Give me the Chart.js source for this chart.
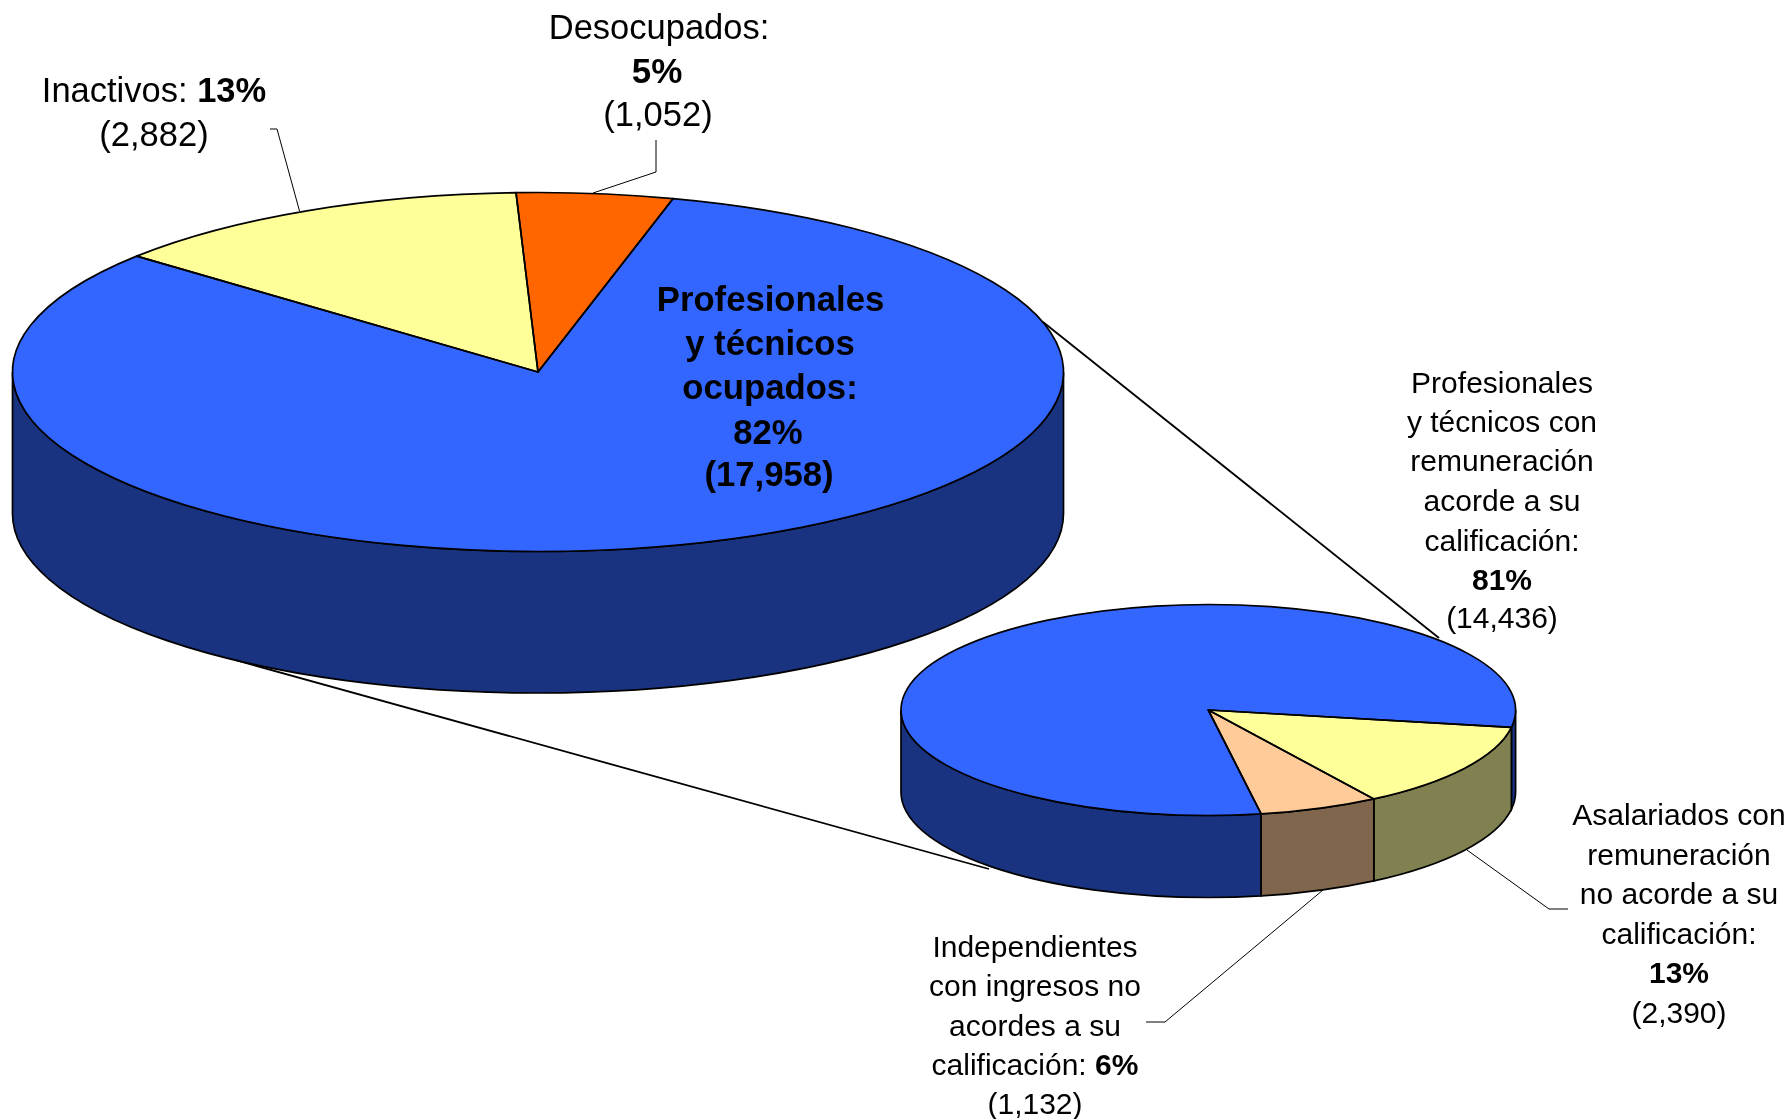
<!DOCTYPE html>
<html lang="es">
<head>
<meta charset="utf-8">
<title>Profesionales y técnicos</title>
<script src="https://cdn.jsdelivr.net/npm/chart.js@4"></script>
<style>
html,body{margin:0;padding:0;background:#fff;width:1792px;height:1119px;overflow:hidden}
#stage{position:relative;width:1792px;height:1119px;font-family:"Liberation Sans",Arial,sans-serif;color:#000}
canvas{position:absolute;left:0;top:0}
svg{position:absolute;left:0;top:0}
.t{position:absolute;width:800px;margin-left:-400px;text-align:center;white-space:pre;line-height:40px;height:40px}
</style>
</head>
<body>
<div id="stage">
<canvas id="mainPie" width="1792" height="1119"></canvas>
<svg id="leaders" width="1792" height="1119"></svg>
<canvas id="subPie" width="1792" height="1119"></canvas>
</div>
<script>
// Data
const mainCategories = ["Profesionales y técnicos ocupados", "Inactivos", "Desocupados"];
const mainValues = [17958, 2882, 1052];
const mainFaceColors = ["#3366FF", "#FFFF99", "#FF6600"];
const mainSideColors = ["#1A3380", "#808050", "#803300"];

const subCategories = ["Profesionales y técnicos con remuneración acorde a su calificación", "Asalariados con remuneración no acorde a su calificación", "Independientes con ingresos no acordes a su calificación"];
const subValues = [14436, 2390, 1132];
const subFaceColors = ["#3366FF", "#FFFF99", "#FFCC99"];
const subSideColors = ["#1A3380", "#808050", "#80664D"];

// Geometry of the tilted pies (position only)
const mainGeo = {cx: 538, cy: 372, rx: 525.5, ry: 179.5, depth: 141.5, rotation: 14.9};
const subGeo  = {cx: 1208.3, cy: 710, rx: 307.3, ry: 105.5, depth: 82, rotation: 170.1};

// Labels: [centre x, centre y, font size, text]; a "*" prefix on a run means bold
const labelLines = [
  [659, 27, 34.5, "Desocupados:"],
  [657, 70.5, 35, "*5%"],
  [658, 114, 34.5, "(1,052)"],
  [154, 90, 34.5, "Inactivos: |*13%"],
  [154, 134, 34.5, "(2,882)"],
  [770.5, 299, 34.7, "*Profesionales"],
  [770, 343, 34.7, "*y técnicos"],
  [770, 387, 34.7, "*ocupados:"],
  [768, 432, 34.7, "*82%"],
  [769, 474, 34.7, "*(17,958)"],
  [1502, 383, 30, "Profesionales"],
  [1502, 422, 30, "y técnicos con"],
  [1502, 461, 30, "remuneración"],
  [1502, 501, 30, "acorde a su"],
  [1502, 541, 30, "calificación:"],
  [1502, 580, 30, "*81%"],
  [1502, 618, 30, "(14,436)"],
  [1679, 815, 30, "Asalariados con"],
  [1679, 855, 30, "remuneración"],
  [1679, 894, 30, "no acorde a su"],
  [1679, 934, 30, "calificación:"],
  [1679, 973, 30, "*13%"],
  [1679, 1013, 30, "(2,390)"],
  [1035, 947, 30, "Independientes"],
  [1035, 986, 30, "con ingresos no"],
  [1035, 1026, 30, "acordes a su"],
  [1035, 1065, 30, "calificación: |*6%"],
  [1035, 1104, 30, "(1,132)"]
];

// Leader and series lines
const leaderLines = [
  {w: 1, pts: "270,129 277,129 299.5,211"},
  {w: 1, pts: "656,140 656,172 593,193"},
  {w: 1, pts: "1467,850 1549,909 1568,909"},
  {w: 1, pts: "1323,890 1165,1022 1146,1022"},
  {w: 1.8, pts: "1043,322 1439,638"},
  {w: 1.8, pts: "235,660 989,869"}
];

const stage = document.getElementById("stage");
labelLines.forEach(([x, y, size, text]) => {
  const d = document.createElement("div");
  d.className = "t";
  d.style.left = x + "px";
  d.style.top = (y - 20) + "px";
  d.style.fontSize = size + "px";
  text.split("|").forEach(run => {
    const s = document.createElement("span");
    if (run[0] === "*") { s.style.fontWeight = "bold"; s.textContent = run.slice(1); }
    else s.textContent = run;
    d.appendChild(s);
  });
  stage.appendChild(d);
});

const svg = document.getElementById("leaders");
leaderLines.forEach(l => {
  const p = document.createElementNS("http://www.w3.org/2000/svg", "polyline");
  p.setAttribute("points", l.pts);
  p.setAttribute("fill", "none");
  p.setAttribute("stroke", "#000");
  p.setAttribute("stroke-width", l.w);
  svg.appendChild(p);
});

// Plugin: squash the library's circular arcs into an ellipse and extrude the front wall
const tiltPlugin = {
  id: "tilt",
  beforeDatasetsDraw(chart, args, opts) {
    const g = opts.geo, ctx = chart.ctx, arcs = chart.getDatasetMeta(0).data;
    ctx.save();
    ctx.lineWidth = 1.7;
    ctx.strokeStyle = "#000";
    const TAU = Math.PI * 2;
    arcs.forEach((arc, i) => {
      const {startAngle, endAngle} = arc.getProps(["startAngle", "endAngle"], true);
      for (let k = -1; k <= 2; k++) {
        const a = Math.max(startAngle, TAU * k), b = Math.min(endAngle, TAU * k + Math.PI);
        if (b <= a) continue;
        ctx.beginPath();
        ctx.ellipse(g.cx, g.cy, g.rx, g.ry, 0, a, b);
        ctx.ellipse(g.cx, g.cy + g.depth, g.rx, g.ry, 0, b, a, true);
        ctx.closePath();
        ctx.fillStyle = opts.side[i];
        ctx.fill();
        ctx.stroke();
      }
    });
    ctx.restore();
    ctx.save();
    const mid = chart.chartArea.top + chart.chartArea.height / 2;
    ctx.translate(0, g.cy);
    ctx.scale(1, g.ry / g.rx);
    ctx.translate(0, -mid);
  },
  afterDatasetsDraw(chart, args, opts) {
    const g = opts.geo, ctx = chart.ctx, arcs = chart.getDatasetMeta(0).data;
    ctx.restore();
    ctx.save();
    ctx.lineWidth = 1.7;
    ctx.strokeStyle = "#000";
    ctx.lineJoin = "round";
    arcs.forEach(arc => {
      const {startAngle, endAngle} = arc.getProps(["startAngle", "endAngle"], true);
      ctx.beginPath();
      ctx.moveTo(g.cx, g.cy);
      ctx.ellipse(g.cx, g.cy, g.rx, g.ry, 0, startAngle, endAngle);
      ctx.closePath();
      ctx.stroke();
    });
    ctx.restore();
  }
};

function makePie(id, labels, values, faces, sides, geo) {
  const W = 1792, H = 1119, R = geo.rx;
  return new Chart(document.getElementById(id), {
    type: "pie",
    data: {labels, datasets: [{data: values, backgroundColor: faces, borderWidth: 0, hoverOffset: 0}]},
    options: {
      responsive: false,
      animation: false,
      devicePixelRatio: 1,
      rotation: geo.rotation,
      layout: {padding: {left: geo.cx - R, right: W - geo.cx - R, top: H / 2 - R, bottom: H / 2 - R}},
      events: [],
      plugins: {legend: {display: false}, tooltip: {enabled: false}, title: {display: false},
        tilt: {geo, side: sides}}
    },
    plugins: [tiltPlugin]
  });
}
makePie("mainPie", mainCategories, mainValues, mainFaceColors, mainSideColors, mainGeo);
makePie("subPie", subCategories, subValues, subFaceColors, subSideColors, subGeo);
</script>
</body>
</html>
